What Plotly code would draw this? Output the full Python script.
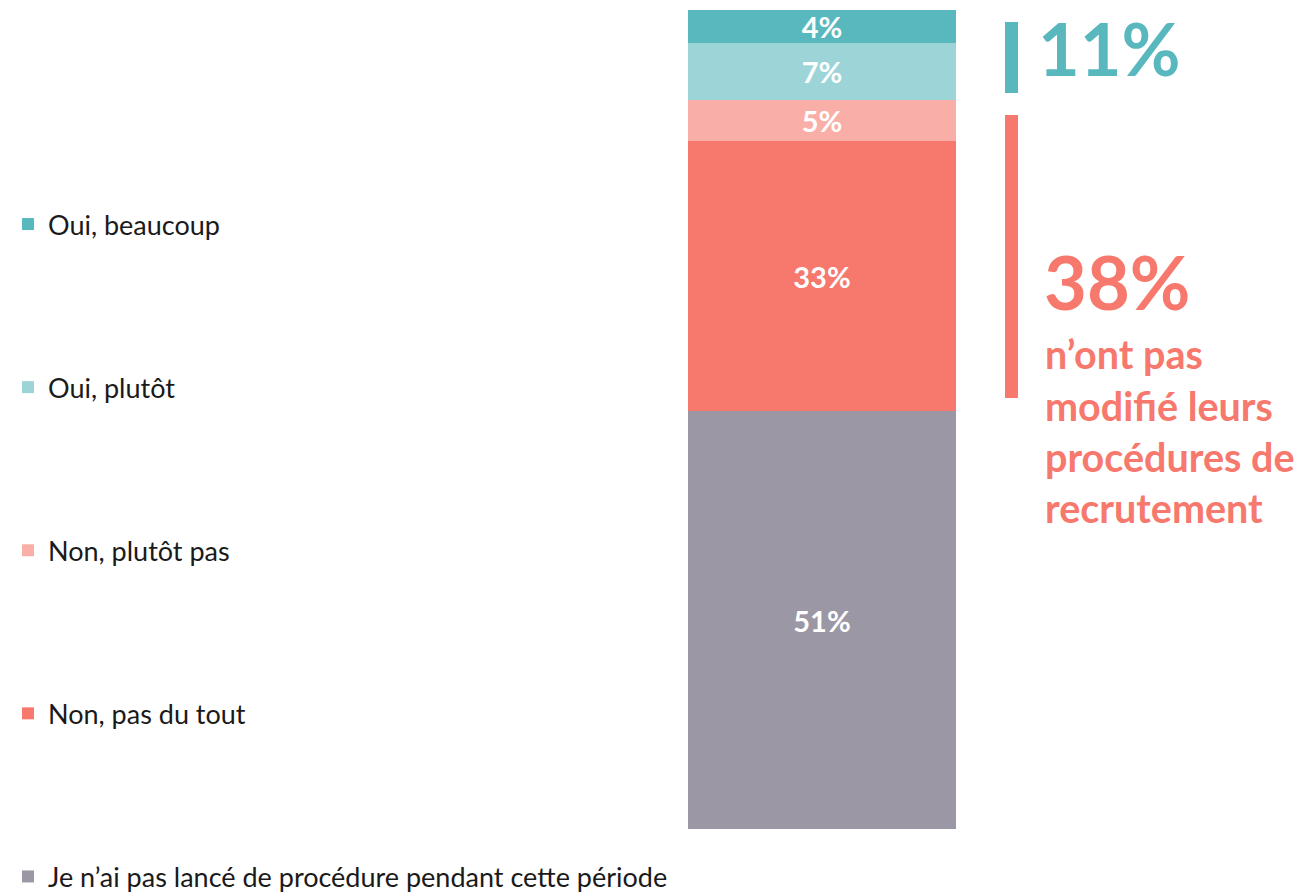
import plotly.graph_objects as go

# Survey answers, stacked from the bottom of the bar to the top
categories = ["Je n’ai pas lancé de procédure pendant cette période",
              "Non, pas du tout",
              "Non, plutôt pas",
              "Oui, plutôt",
              "Oui, beaucoup"]
values = [51, 33, 5, 7, 4]
colors = ["#9C97A4", "#F7786C", "#F9AFA8", "#9CD4D8", "#58B8BD"]

# Callout texts on the right
oui_total = values[3] + values[4]
non_total = values[1] + values[2]
non_lines = ["n’ont pas", "modifié leurs", "procédures de", "recrutement"]

W, H = 1304, 893
OFF = 8            # the page body adds an 8px margin around the figure
TOP, BOTTOM = 2, 72
TEAL = "#58B8BD"
CORAL = "#F7786C"
FONT = "Lato"


# page pixel -> paper helpers (plot area spans the full width)
def px_x(x):
    return (x - OFF) / W


def px_y(y):
    return (H - BOTTOM - (y - OFF)) / (H - TOP - BOTTOM)


fig = go.Figure()

n = len(categories)
for i, (cat, val, col) in enumerate(zip(categories, values, colors)):
    fig.add_trace(go.Bar(
        x=[0], y=[val], width=1,
        name=cat, legendgroup=cat, legendrank=n - i,
        marker=dict(color=col, line_width=0),
        text=[f"{val}%"], textposition="inside", insidetextanchor="middle",
        textangle=0, constraintext="none",
        textfont=dict(family=FONT, size=29, color="white", weight="bold"),
        hoverinfo="skip",
    ))

# bracket bars
fig.add_shape(type="rect", xref="paper", yref="paper",
              x0=px_x(1005), x1=px_x(1018), y0=px_y(93), y1=px_y(22),
              fillcolor=TEAL, line_width=0)
fig.add_shape(type="rect", xref="paper", yref="paper",
              x0=px_x(1005), x1=px_x(1018), y0=px_y(398), y1=px_y(115),
              fillcolor=CORAL, line_width=0)

fig.add_annotation(xref="paper", yref="paper", x=px_x(1036), y=px_y(48),
                   xanchor="left", yanchor="middle", showarrow=False,
                   text=f"{oui_total}%",
                   font=dict(family=FONT, size=72, color=TEAL, weight="bold"))
fig.add_annotation(xref="paper", yref="paper", x=px_x(1042), y=px_y(281),
                   xanchor="left", yanchor="middle", showarrow=False,
                   text=f"{non_total}%",
                   font=dict(family=FONT, size=74, color=CORAL, weight="bold"))

for i, line in enumerate(non_lines):
    fig.add_annotation(xref="paper", yref="paper", x=px_x(1043), y=px_y(354 + i * 51.3),
                       xanchor="left", yanchor="middle", showarrow=False,
                       text=line,
                       font=dict(family=FONT, size=39.5, color=CORAL, weight="bold"))

fig.update_layout(
    width=W, height=H,
    barmode="stack",
    paper_bgcolor="white", plot_bgcolor="white",
    margin=dict(l=0, r=0, t=TOP, b=BOTTOM, autoexpand=False),
    xaxis=dict(range=[-(822 - OFF) / 268, (W - 822 + OFF) / 268], visible=False),
    yaxis=dict(range=[0, 100], visible=False),
    showlegend=True,
    legend=dict(
        xref="container", yref="container",
        x=0, y=1 - 192 / H, xanchor="left", yanchor="top",
        traceorder="grouped", tracegroupgap=125, maxheight=1,
        font=dict(family=FONT, size=27, color="#1a1a1a"),
        bgcolor="rgba(0,0,0,0)",
    ),
)

fig.write_html("out.html")
